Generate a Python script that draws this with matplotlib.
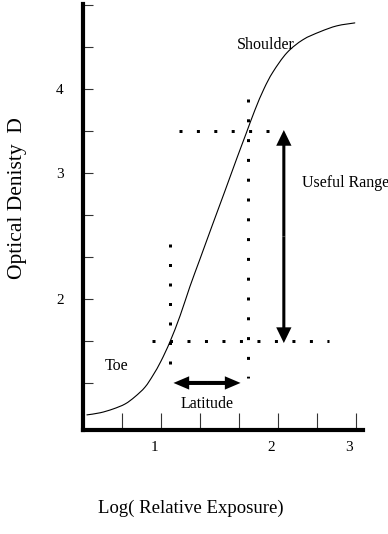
import matplotlib
matplotlib.use("Agg")
import numpy as np
import matplotlib.pyplot as plt
from matplotlib.patches import FancyArrowPatch, PathPatch
from matplotlib.path import Path
from matplotlib.transforms import ScaledTranslation

plt.rcParams["font.family"] = ["Liberation Serif", "DejaVu Serif"]

# Characteristic (H&D) curve, in tick units of the two axes
log_exposure = [0.10, 0.44, 0.77, 1.08, 1.33, 1.59, 1.80, 2.00, 2.23, 2.49,
                2.74, 3.00, 3.31, 3.64, 3.95, 4.18, 4.41, 4.64, 4.87, 5.23,
                5.64, 6.08, 6.51, 6.97]
density = [0.24, 0.29, 0.38, 0.50, 0.67, 0.90, 1.19, 1.52, 1.98, 2.60,
           3.29, 3.95, 4.74, 5.57, 6.36, 6.93, 7.50, 8.00, 8.40, 8.86,
           9.17, 9.36, 9.50, 9.57]

# Axis ticks and their labels
x_ticks = [1, 2, 3, 4, 5, 6, 7]
x_tick_labels = ["", "1", "", "", "2", "", "3"]
y_ticks = [1, 2, 3, 4, 5, 6, 7, 8, 9, 10]
y_tick_labels = ["", "", "2", "", "", "3", "", "4", "", ""]

# Density levels bounding the useful range and exposures bounding the latitude
useful_low, useful_high = 1.95, 7.02
latitude_low, latitude_high = 2.32, 4.04

fig = plt.figure(figsize=(3.88, 5.34), dpi=100)
ax = fig.add_axes([83 / 388, 104 / 534, 280 / 388, 426 / 534])


def smooth_path(xs, ys):
    """Catmull-Rom curve through the points, as cubic Bezier segments."""
    pts = np.column_stack([xs, ys])
    ext = np.vstack([pts[0], pts, pts[-1]])
    verts = [pts[0]]
    codes = [Path.MOVETO]
    for i in range(1, len(ext) - 2):
        p0, p1, p2, p3 = ext[i - 1], ext[i], ext[i + 1], ext[i + 2]
        verts += [p1 + (p2 - p0) / 6, p2 - (p3 - p1) / 6, p2]
        codes += [Path.CURVE4] * 3
    return Path(verts, codes)


ax.add_patch(PathPatch(smooth_path(log_exposure, density), fill=False,
                       edgecolor="black", lw=0.8, capstyle="round"))

ax.set_xlim(0, 7.18)
ax.set_ylim(-0.12, 10.02)

for side in ("top", "right"):
    ax.spines[side].set_visible(False)
for side in ("left", "bottom"):
    ax.spines[side].set_linewidth(3.0)
    ax.spines[side].set_capstyle("projecting")

ax.set_xticks(x_ticks)
ax.set_xticklabels(x_tick_labels)
ax.set_yticks(y_ticks)
ax.set_yticklabels(y_tick_labels)
ax.tick_params(axis="x", direction="in", length=12, width=0.8, pad=8,
               labelsize=11, color="#333333")
ax.tick_params(axis="y", direction="in", length=7, width=0.8, pad=14,
               labelsize=11, color="#333333")
shift = ScaledTranslation(-7 / 100, 0, fig.dpi_scale_trans)
for lab in ax.get_xticklabels():
    lab.set_transform(lab.get_transform() + shift)

# Dotted guide lines (square dots)
dot = dict(color="black", lw=2.16, dash_capstyle="butt")
ax.plot([2.45, 4.76], [7.0, 7.0], linestyle=(0, (1, 4.8)), **dot)
ax.plot([1.76, 6.32], [2.0, 2.0], linestyle=(0, (1, 4.83)), **dot)
ax.plot([2.23, 2.23], [4.30, 1.44], linestyle=(0, (1, 5.5)), **dot)
ax.plot([4.23, 4.23], [7.77, 1.11], linestyle=(0, (1, 5.6)), **dot)


def double_arrow(p, q, head_length, head_width, tail_width):
    mid = ((p[0] + q[0]) / 2, (p[1] + q[1]) / 2)
    style = (f"simple,head_length={head_length},head_width={head_width},"
             f"tail_width={tail_width}")
    for end in (p, q):
        ax.add_patch(FancyArrowPatch(mid, end, arrowstyle=style,
                                     mutation_scale=1, lw=0, color="black",
                                     shrinkA=0, shrinkB=0))


double_arrow((5.15, useful_low), (5.15, useful_high), 11.3, 11.0, 2.2)
double_arrow((latitude_low, 1.0), (latitude_high, 1.0), 11.3, 9.6, 2.9)

txt = dict(fontsize=11.5, va="baseline", ha="left")
ax.text(3.95, 8.95, "Shoulder", **txt)
ax.text(5.62, 5.67, "Useful Range", clip_on=False, **txt)
ax.text(0.56, 1.31, "Toe", **txt)
ax.text(2.51, 0.40, "Latitude", **txt)

fig.text(18 / 388, 1 - 198 / 534, "Optical Denisty  D", rotation=90,
         ha="center", va="center", fontsize=15.5)
fig.text(191 / 388, 1 - 508 / 534, "Log( Relative Exposure)",
         ha="center", va="center", fontsize=13.5)

fig.savefig("out.png", dpi=100)
